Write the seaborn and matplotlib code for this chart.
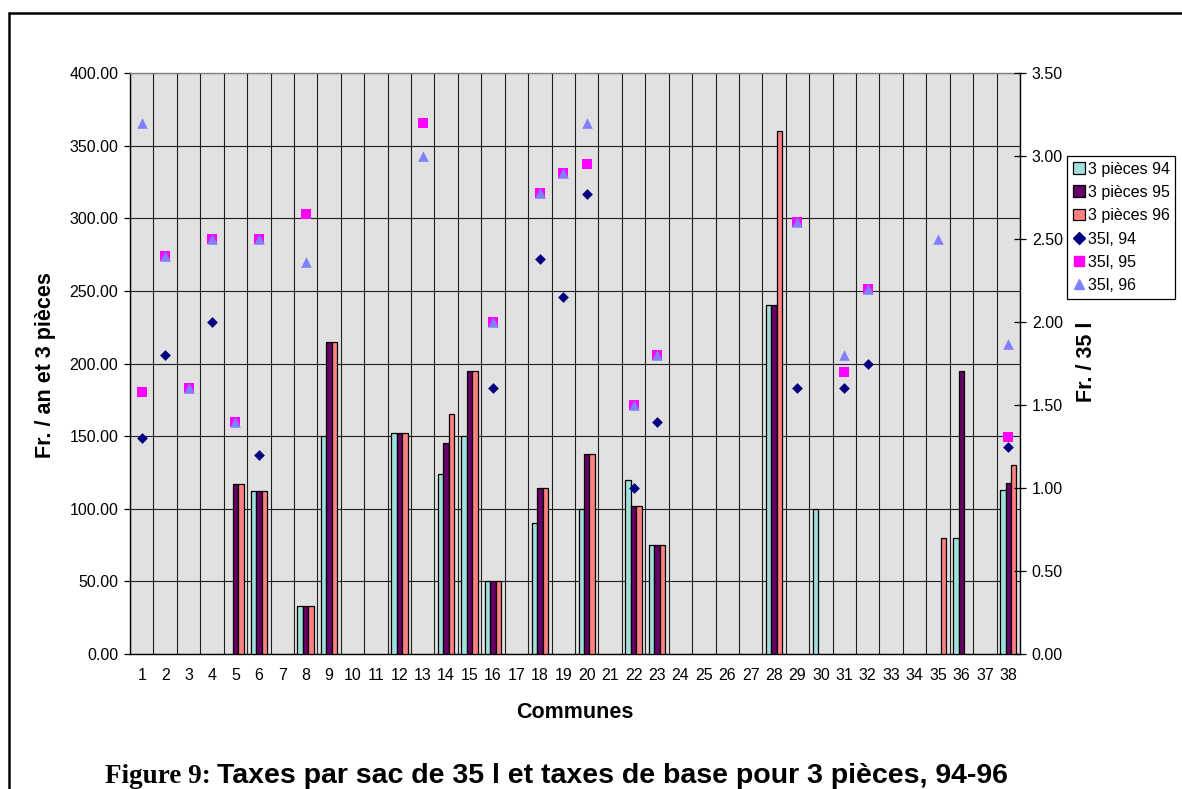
import numpy as np
import pandas as pd
import matplotlib
matplotlib.use("Agg")
import matplotlib.pyplot as plt
import seaborn as sns
from matplotlib.patches import Patch
from matplotlib.lines import Line2D

nan = np.nan

communes = [str(i) for i in range(1, 39)]

# Bars: Fr. / an pour 3 pièces (left axis)
pieces_94 = [nan, nan, nan, nan, nan, 112.5, nan, 33, 150, nan,
             nan, 152, nan, 124, 150, 50, nan, 90, nan, 100,
             nan, 120, 75, nan, nan, nan, nan, 240, nan, 100,
             nan, nan, nan, nan, nan, 80, nan, 113]
pieces_95 = [nan, nan, nan, nan, 117, 112.5, nan, 33, 215, nan,
             nan, 152, nan, 145, 195, 50, nan, 114, nan, 138,
             nan, 102, 75, nan, nan, nan, nan, 240, nan, nan,
             nan, nan, nan, nan, nan, 195, nan, 118]
pieces_96 = [nan, nan, nan, nan, 117, 112.5, nan, 33, 215, nan,
             nan, 152, nan, 165, 195, 50, nan, 114, nan, 138,
             nan, 102, 75, nan, nan, nan, nan, 360, nan, nan,
             nan, nan, nan, nan, 80, nan, nan, 130]

# Points: Fr. / sac de 35 l (right axis)
sac_94 = [1.30, 1.80, nan, 2.00, nan, 1.20, nan, nan, nan, nan,
          nan, nan, nan, nan, nan, 1.60, nan, 2.38, 2.15, 2.77,
          nan, 1.00, 1.40, nan, nan, nan, nan, nan, 1.60, nan,
          1.60, 1.75, nan, nan, nan, nan, nan, 1.25]
sac_95 = [1.58, 2.40, 1.60, 2.50, 1.40, 2.50, nan, 2.65, nan, nan,
          nan, nan, 3.20, nan, nan, 2.00, nan, 2.78, 2.90, 2.95,
          nan, 1.50, 1.80, nan, nan, nan, nan, nan, 2.60, nan,
          1.70, 2.20, nan, nan, nan, nan, nan, 1.31]
sac_96 = [3.20, 2.40, 1.60, 2.50, 1.40, 2.50, nan, 2.36, nan, nan,
          nan, nan, 3.00, nan, nan, 2.00, nan, 2.78, 2.90, 3.20,
          nan, 1.50, 1.80, nan, nan, nan, nan, nan, 2.60, nan,
          1.80, 2.20, nan, nan, 2.50, nan, nan, 1.87]

bar_names = ["3 pièces 94", "3 pièces 95", "3 pièces 96"]
bar_colors = ["#A0E0DC", "#660066", "#FF8080"]
pt_names = ["35l, 94", "35l, 95", "35l, 96"]
pt_colors = ["#000080", "#FF00FF", "#8080FF"]
pt_markers = ["D", "s", "^"]
pt_sizes = [30, 45, 58]

sns.set_style("white")
plt.rcParams["font.family"] = ["Liberation Sans", "DejaVu Sans"]
plt.rcParams["text.color"] = "black"
plt.rcParams["axes.labelcolor"] = "black"
plt.rcParams["xtick.color"] = "black"
plt.rcParams["ytick.color"] = "black"

W, H = 1182, 789
fig = plt.figure(figsize=(W / 100, H / 100), dpi=100)
L, R, T, B = 130, 1020, 73, 654
ax = fig.add_axes([L / W, 1 - B / H, (R - L) / W, (B - T) / H])

bars = pd.DataFrame({
    "Commune": communes * 3,
    "Valeur": pieces_94 + pieces_95 + pieces_96,
    "Série": sum([[n] * len(communes) for n in bar_names], []),
}).dropna()

sns.barplot(data=bars, x="Commune", y="Valeur", hue="Série",
            order=communes, hue_order=bar_names, palette=bar_colors,
            width=0.7, saturation=1, edgecolor="black", linewidth=0.9,
            errorbar=None, legend=False, ax=ax, zorder=3)

ax.set_facecolor("#E1E1E1")
ax.set_xlim(-0.5, len(communes) - 0.5)
ax.set_ylim(0, 400)
ax.set_yticks(np.arange(0, 401, 50))
ax.yaxis.set_major_formatter("{x:.2f}")
ax.set_xticks(np.arange(-0.5, len(communes), 1), minor=True)
ax.set_axisbelow(True)
ax.grid(False)
ax.grid(True, which="major", axis="y", color="#1e1e1e", lw=0.8)
ax.grid(True, which="minor", axis="x", color="#1e1e1e", lw=0.8)
ax.tick_params(axis="x", which="major", length=0, pad=10, labelsize=11.5, labelcolor="black")
ax.tick_params(axis="x", which="minor", length=4, direction="out", width=0.9, color="black")
ax.tick_params(axis="y", which="major", length=4, direction="out", width=0.9,
               pad=4.5, labelsize=11.5, left=True, color="black", labelcolor="black")
ax.set_xlabel("")
ax.set_ylabel("")
for s in ["left", "bottom"]:
    ax.spines[s].set_color("black")
    ax.spines[s].set_linewidth(1.0)
ax.spines["top"].set_color("#808080")
ax.spines["top"].set_linewidth(1.0)
ax.spines["right"].set_visible(False)

ax2 = ax.twinx()
pos = np.arange(len(communes))
for vals, c, m, s in zip([sac_94, sac_95, sac_96], pt_colors, pt_markers, pt_sizes):
    v = np.array(vals, dtype=float)
    ok = ~np.isnan(v)
    sns.scatterplot(x=pos[ok], y=v[ok], marker=m, color=c, s=s,
                    linewidth=0, ax=ax2, zorder=5)
ax2.set_ylim(0, 3.5)
ax2.set_yticks(np.arange(0, 3.51, 0.5))
ax2.yaxis.set_major_formatter("{x:.2f}")
ax2.tick_params(axis="y", which="major", length=8, direction="inout", width=0.9,
                pad=4.5, labelsize=11.5, right=True, color="black", labelcolor="black")
ax2.grid(False)
for s in ["left", "bottom", "top"]:
    ax2.spines[s].set_visible(False)
ax2.spines["right"].set_visible(True)
ax2.spines["right"].set_color("black")
ax2.spines["right"].set_linewidth(1.0)
ax2.set_xlim(-0.5, len(communes) - 0.5)

# Axis titles
fig.text((L + R) / 2 / W, 1 - 712 / H, "Communes", ha="center", va="center",
         fontsize=15.5, fontweight="bold", color="black")
fig.text(46 / W, 1 - 365 / H, "Fr. / an et 3 pièces", ha="center", va="center",
         rotation=90, fontsize=15.5, fontweight="bold", color="black")
fig.text(1087 / W, 1 - 362 / H, "Fr. / 35 l", ha="center", va="center",
         rotation=90, fontsize=15.5, fontweight="bold", color="black")

# Legend
handles = [Patch(facecolor=c, edgecolor="black", linewidth=0.9) for c in bar_colors]
handles += [Line2D([], [], ls="none", marker=m, color=c, markersize=ms)
            for c, m, ms in zip(pt_colors, pt_markers, [6.0, 6.7, 7.6])]
leg = fig.legend(handles, bar_names + pt_names, loc="upper left",
                 bbox_to_anchor=(1067 / W, 1 - 156 / H), frameon=True,
                 fancybox=False, edgecolor="black", framealpha=1,
                 fontsize=11.5, borderpad=0.35, labelspacing=0.52,
                 handlelength=0.75, handleheight=0.75, handletextpad=0.2,
                 borderaxespad=0)
leg.get_frame().set_linewidth(0.9)
for t in leg.get_texts():
    t.set_color("black")

# Caption
t1 = fig.text(105 / W, 1 - 783 / H, "Figure 9:", ha="left", va="baseline",
              fontsize=19.5, fontweight="bold", color="black",
              family=["Liberation Serif", "DejaVu Serif"])
fig.canvas.draw()
bb = t1.get_window_extent()
fig.text((bb.x1 + 6) / W, 1 - 783 / H,
         "Taxes par sac de 35 l et taxes de base pour 3 pièces, 94-96",
         ha="left", va="baseline", fontsize=20.5, fontweight="bold", color="black")

# Outer frame (top and left edges)
fig.add_artist(Line2D([9 / W, 9 / W], [0, 1 - 13 / H], color="black", lw=1.8,
                      transform=fig.transFigure))
fig.add_artist(Line2D([9 / W, 1], [1 - 13 / H, 1 - 13 / H], color="black", lw=1.8,
                      transform=fig.transFigure))

fig.savefig("out.png", dpi=100)
